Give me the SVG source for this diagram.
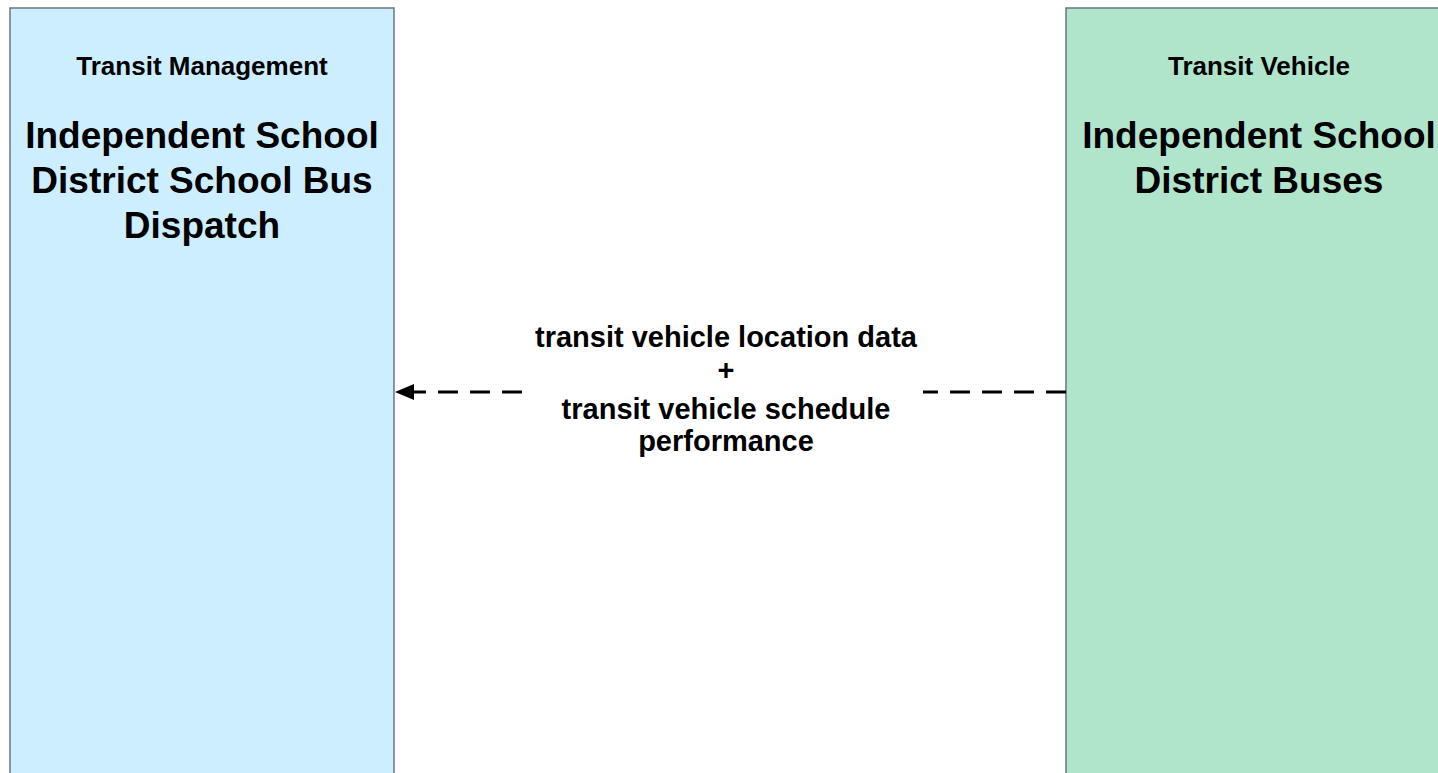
<svg xmlns="http://www.w3.org/2000/svg" width="1438" height="773" viewBox="0 0 1438 773">
<style>
.box{stroke:#6b7580;stroke-width:1.5}
.cat{font-family:"Liberation Sans",Arial,sans-serif;font-weight:bold;font-size:26px;text-anchor:middle;fill:#000}
.ttl{font-family:"Liberation Sans",Arial,sans-serif;font-weight:bold;font-size:37px;text-anchor:middle;fill:#000}
.lbl{font-family:"Liberation Sans",Arial,sans-serif;font-weight:bold;font-size:29px;text-anchor:middle;fill:#000}
.flow{stroke:#000;stroke-width:3;fill:none;stroke-dasharray:20 12}
</style>
<rect width="1438" height="773" fill="#fff"/>
<g id="node-dispatch">
<rect class="box" x="10" y="8" width="384" height="780" fill="#cceeff"/>
<text class="cat" x="202" y="75">Transit Management</text>
<text class="ttl" x="202" y="148">Independent School</text>
<text class="ttl" x="202" y="193">District School Bus</text>
<text class="ttl" x="202" y="238">Dispatch</text>
</g>
<g id="node-buses">
<rect class="box" x="1066" y="8" width="400" height="780" fill="#b0e5cc"/>
<text class="cat" x="1259" y="75">Transit Vehicle</text>
<text class="ttl" x="1259" y="148">Independent School</text>
<text class="ttl" x="1259" y="193">District Buses</text>
</g>
<g id="connectors">
<path class="flow" d="M1066,392 L410,392"/>
<path d="M395,392 L414,384 L414,400 Z" fill="#000"/>
<rect x="527" y="318" width="396" height="145" fill="#fff"/>
<text class="lbl" x="726" y="347">transit vehicle location data</text>
<text class="lbl" x="726" y="380">+</text>
<text class="lbl" x="726" y="419">transit vehicle schedule</text>
<text class="lbl" x="726" y="451">performance</text>
</g>
</svg>
